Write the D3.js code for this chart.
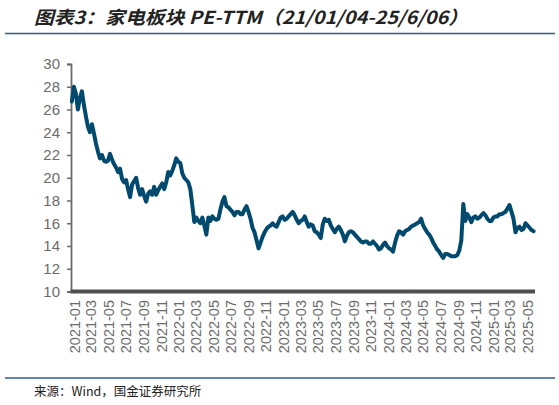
<!DOCTYPE html>
<html lang="zh">
<head>
<meta charset="UTF-8">
<title>家电板块 PE-TTM</title>
<script src="https://d3js.org/d3.v7.min.js"></script>
<style>
  html, body { margin: 0; padding: 0; background: #fff; }
  svg { display: block; }
</style>
</head>
<body>
<div id="chart"></div>
<script>
const width = 559;
const height = 405;

// weekly PE-TTM readings, starting Monday 2021-01-04
const firstWeek = "2021-01-04";
const peValues = [
  26.7, 28.0, 27.4, 26.0, 27.0, 27.6, 26.4, 25.4, 24.5, 24.0,
  24.7, 23.9, 23.0, 22.3, 21.7, 22.0, 21.5, 21.4, 21.5, 22.1,
  21.6, 21.2, 20.9, 20.5, 20.8, 19.9, 19.6, 19.8, 19.0, 18.3,
  19.4, 19.7, 20.0, 19.1, 18.5, 19.0, 18.4, 17.9, 18.6, 18.8,
  18.5, 19.2, 18.5, 18.9, 19.2, 19.5, 19.0, 19.6, 20.5, 20.2,
  20.6, 21.1, 21.7, 21.4, 21.3, 20.4, 20.0, 19.8, 19.6, 19.0,
  17.6, 16.1, 16.5, 16.2, 16.0, 16.5, 15.8, 15.0, 16.5, 16.2,
  16.6, 16.4, 16.3, 16.4, 17.2, 17.9, 18.3, 17.5, 17.4, 17.2,
  17.0, 16.7, 17.0, 17.0, 16.8, 16.8, 17.2, 17.5, 17.0, 16.4,
  15.6, 15.2, 14.5, 13.8, 14.3, 14.8, 15.2, 15.5, 15.7, 15.8,
  16.0, 15.8, 15.7, 16.1, 16.5, 16.6, 16.3, 16.4, 16.6, 16.8,
  17.0, 16.7, 16.3, 16.0, 16.2, 16.3, 16.6, 16.1, 15.7, 15.9,
  15.8, 15.3, 15.2, 15.0, 14.7, 15.9, 16.4, 16.2, 16.3, 15.8,
  15.5, 15.2, 15.5, 15.7, 15.4, 15.0, 14.4, 14.9, 15.2, 15.3,
  15.2, 15.0, 14.8, 14.6, 14.4, 14.3, 14.4, 14.4, 14.2, 14.2,
  14.4, 14.2, 14.0, 13.7, 13.8, 14.1, 14.3, 14.0, 13.8, 13.7,
  13.5, 14.3, 14.9, 15.3, 15.2, 15.0, 15.3, 15.4, 15.5, 15.7,
  15.8, 15.9, 16.0, 16.1, 16.4, 15.8, 15.5, 15.2, 15.0, 14.7,
  14.3, 14.0, 13.7, 13.5, 13.2, 12.95, 13.3, 13.3, 13.2, 13.1,
  13.1, 13.1, 13.2, 13.6, 14.5, 17.7, 16.2, 16.8, 16.5, 16.1,
  16.5, 16.6, 16.4, 16.5, 16.7, 16.9, 16.7, 16.4, 16.2, 16.2,
  16.5, 16.6, 16.6, 16.8, 16.8, 16.9, 17.0, 17.3, 17.6, 17.0,
  16.4, 15.2, 15.6, 15.7, 15.4, 15.5, 16.0, 15.8, 15.6, 15.4,
  15.3
];

const xTickLabels = [
  "2021-01", "2021-03", "2021-05", "2021-07", "2021-09", "2021-11",
  "2022-01", "2022-03", "2022-05", "2022-07", "2022-09", "2022-11",
  "2023-01", "2023-03", "2023-05", "2023-07", "2023-09", "2023-11",
  "2024-01", "2024-03", "2024-05", "2024-07", "2024-09", "2024-11",
  "2025-01", "2025-03", "2025-05"
];
const yTicks = [10, 12, 14, 16, 18, 20, 22, 24, 26, 28, 30];

const titleText = "图表3：家电板块 PE-TTM（21/01/04-25/6/06）";
const sourceText = "来源：Wind，国金证券研究所";

const parseDay = d3.timeParse("%Y-%m-%d");
const parseMonth = d3.timeParse("%Y-%m");
const start = parseDay(firstWeek);
const data = peValues.map((v, i) => ({ date: d3.timeMonday.offset(start, i), value: v }));

const x = d3.scaleTime()
    .domain([parseDay("2021-01-01"), parseDay("2025-06-07")])
    .range([71, 535]);
const y = d3.scaleLinear()
    .domain([10, 30])
    .range([291.5, 64]);

const svg = d3.select("#chart").append("svg")
    .attr("width", width)
    .attr("height", height);

// title + rules
svg.append("text")
    .attr("x", 34)
    .attr("y", 24)
    .attr("textLength", 434)
    .attr("lengthAdjust", "spacingAndGlyphs")
    .style("font-family", "'Noto Sans CJK SC', sans-serif")
    .style("font-size", "18px")
    .style("font-weight", "bold")
    .style("font-style", "italic")
    .style("fill", "#222")
    .text(titleText);

svg.append("line")
    .attr("x1", 5).attr("x2", 555)
    .attr("y1", 33.5).attr("y2", 33.5)
    .attr("stroke", "#2b5f84")
    .attr("stroke-width", 1.5);

svg.append("line")
    .attr("x1", 5).attr("x2", 555)
    .attr("y1", 378).attr("y2", 378)
    .attr("stroke", "#2b5f84")
    .attr("stroke-width", 1.5);

svg.append("text")
    .attr("x", 34)
    .attr("y", 396)
    .style("font-family", "'Noto Sans CJK SC', sans-serif")
    .style("font-size", "12.5px")
    .style("fill", "#222")
    .text(sourceText);

// y axis
const yAxis = svg.append("g")
    .attr("transform", "translate(71,0)")
    .call(d3.axisLeft(y).tickValues(yTicks).tickSize(4).tickPadding(7));
yAxis.select(".domain").attr("stroke", "#6b6b6b").attr("stroke-width", 1.8);
yAxis.selectAll(".tick line").attr("stroke", "#6b6b6b").attr("stroke-width", 1.5);
yAxis.selectAll(".tick text")
    .style("font-family", "'Liberation Sans', Arial, sans-serif")
    .style("font-size", "15px")
    .style("fill", "#6b6b6b");

// x axis: thick base bar, rotated month labels
svg.append("line")
    .attr("x1", x.range()[0] - 0.5).attr("x2", x.range()[1])
    .attr("y1", y(10)).attr("y2", y(10))
    .attr("stroke", "#4f4f4f")
    .attr("stroke-width", 4);

svg.append("g")
    .selectAll("text")
    .data(xTickLabels)
    .join("text")
    .attr("transform", d => `translate(${x(parseMonth(d)) + 3.5},300) rotate(-90)`)
    .attr("dy", "0.35em")
    .attr("text-anchor", "end")
    .style("font-family", "'Liberation Sans', Arial, sans-serif")
    .style("font-size", "14.5px")
    .style("fill", "#6b6b6b")
    .text(d => d);

// PE line
const line = d3.line()
    .x(d => x(d.date))
    .y(d => y(d.value));

svg.append("path")
    .datum(data)
    .attr("fill", "none")
    .attr("stroke", "#02496e")
    .attr("stroke-width", 4)
    .attr("stroke-linejoin", "round")
    .attr("stroke-linecap", "round")
    .attr("d", line);
</script>
</body>
</html>
